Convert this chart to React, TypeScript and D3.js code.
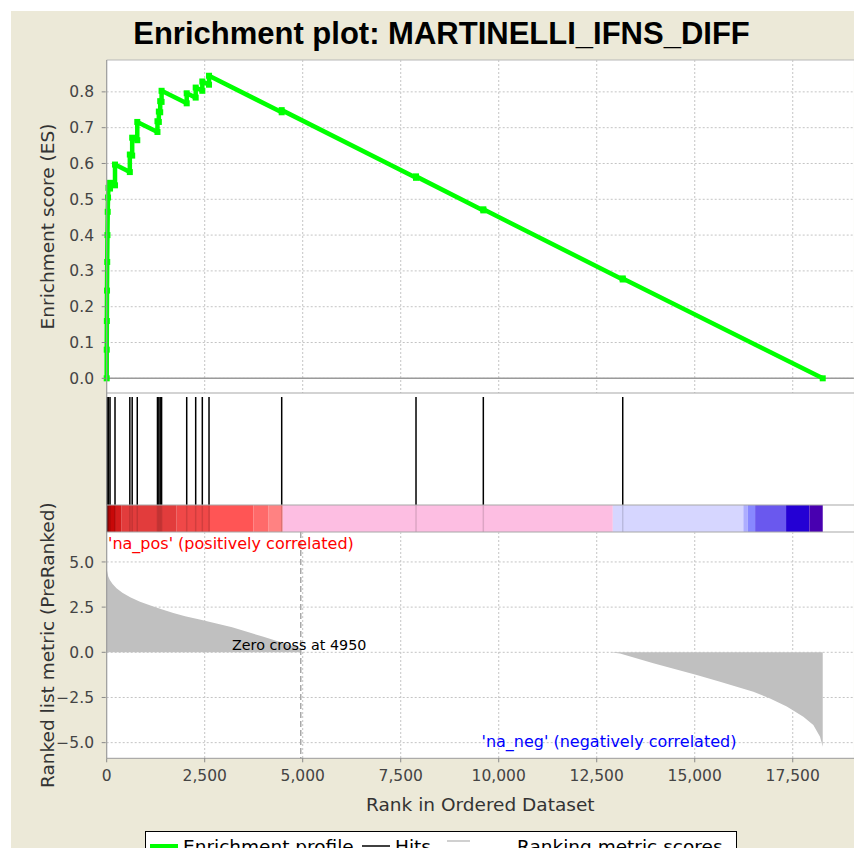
import React from 'react';
import * as d3 from 'd3';

// ---- data ---------------------------------------------------------------
const TITLE = 'Enrichment plot: MARTINELLI_IFNS_DIFF';
const GENE_COUNT = 18265;
const ZERO_CROSS = 4950;
const RANK_AXIS_MAX = 19060;

// running enrichment score: vertices of the step profile
const esRanks = [
  0, 1, 4, 8, 13, 19, 26, 34, 45, 85, 85, 212, 212, 590, 590, 650, 650, 780, 780,
  1295, 1295, 1330, 1330, 1365, 1365, 1400, 1400, 2041, 2041, 2270, 2270,
  2439, 2439, 2610, 2610, 4464, 4464, 7890, 7890, 9607, 9607, 13163, 13163, 18265,
];
const esValues = [
  0, 0.08, 0.16, 0.245, 0.325, 0.4, 0.465, 0.505, 0.532, 0.53, 0.546, 0.539, 0.597, 0.576, 0.625, 0.622, 0.672, 0.665, 0.716,
  0.688, 0.718, 0.716, 0.745, 0.743, 0.774, 0.772, 0.803, 0.768, 0.796, 0.784, 0.812,
  0.803, 0.829, 0.82, 0.845, 0.743, 0.749, 0.56, 0.564, 0.469, 0.472, 0.276, 0.279, 0,
];

// positions of gene-set members in the ranked list
const hitRanks = [
  1, 4, 8, 13, 19, 26, 34, 45, 85, 212, 590, 650, 780, 1295, 1330, 1365, 1400,
  2041, 2270, 2439, 2610, 4464, 7890, 9607, 13163,
];

// ranked list metric (positive and negative tails)
const metricPosRanks = [0, 15, 40, 80, 150, 250, 400, 600, 850, 1100, 1400, 1700, 2000, 2400, 2800, 3200, 3600, 4000, 4400, 4700, 4950];
const metricPosValues = [4.6, 4.45, 4.2, 4.0, 3.78, 3.55, 3.3, 3.05, 2.8, 2.6, 2.38, 2.18, 2.0, 1.8, 1.6, 1.38, 1.12, 0.86, 0.58, 0.38, 0.2];
const metricNegRanks = [12840, 13094, 13944, 15051, 15645, 16495, 16921, 17347, 17770, 18025, 18196, 18265];
const metricNegValues = [0, -0.06, -0.6, -1.26, -1.63, -2.18, -2.55, -3.0, -3.56, -4.02, -4.67, -5.22];

// heat bar segments: start rank of each colour band
const barStarts = [0, 212, 382, 1785, 2635, 3740, 4120, 4490, 12910, 16240, 16350, 16540, 17330, 17925];
const barColors = ['#c80808', '#d41c1c', '#e23c3c', '#f04848', '#ff5555', '#ff6a6a', '#ff8282', '#fdbee2', '#d6d6ff', '#adadff', '#8888ff', '#6a58ee', '#2400d4', '#4800b0'];

const rankTicks = [0, 2500, 5000, 7500, 10000, 12500, 15000, 17500];
const esTicks = [0, 0.1, 0.2, 0.3, 0.4, 0.5, 0.6, 0.7, 0.8];
const metricTicks = [5, 2.5, 0, -2.5, -5];

const legendLabels = ['Enrichment profile', 'Hits', 'Ranking metric scores'];

// ---- layout -------------------------------------------------------------
const W = 854;
const H = 848;
const PL = 106.7;
const PR = 853.9;
const ES_TOP = 60;
const ES_BOT = 393;
const HIT_TOP = 397;
const BAR_TOP = 505;
const BAR_BOT = 532;
const MET_BOT = 758.3;

const BG = '#ece9d8';
const GRID = '#c4c4c4';
const TICK_FONT = "'DejaVu Sans', sans-serif";

export default function App() {
  const x = d3.scaleLinear().domain([0, RANK_AXIS_MAX]).range([PL, PR]);
  const yEs = d3.scaleLinear().domain([-0.041, 0.889]).range([ES_BOT, ES_TOP]);
  const yMet = d3.scaleLinear().domain([-5.866, 6.657]).range([MET_BOT, BAR_BOT]);

  const esPts: [number, number][] = esRanks.map((r, i) => [r, esValues[i]]);
  const esLine = d3.line<[number, number]>().x((d) => x(d[0])).y((d) => yEs(d[1]))(esPts) || '';

  const metricArea = d3
    .area<[number, number]>()
    .x((d) => x(d[0]))
    .y0(yMet(0))
    .y1((d) => yMet(d[1]));
  const posPath = metricArea(metricPosRanks.map((r, i) => [r, metricPosValues[i]] as [number, number])) || '';
  const negPath = metricArea(metricNegRanks.map((r, i) => [r, metricNegValues[i]] as [number, number])) || '';

  const fmtRank = d3.format(',');
  const fmt1 = d3.format('.1f');

  return (
    <svg
      width={W}
      height={H}
      style={{ position: 'absolute', left: 0, top: 0, display: 'block' }}
      xmlns="http://www.w3.org/2000/svg"
    >
      <rect x={0} y={0} width={W} height={H} fill="#ffffff" />
      <rect x={11} y={11} width={W - 11} height={H - 11} fill={BG} />

      {/* title */}
      <text
        x={441.5}
        y={44}
        textAnchor="middle"
        fontFamily="'Liberation Sans', Arial, sans-serif"
        fontWeight="bold"
        fontSize={31}
        fill="#000"
      >
        {TITLE}
      </text>

      {/* plot backgrounds */}
      <rect x={PL} y={ES_TOP} width={PR - PL} height={MET_BOT - ES_TOP} fill="#ffffff" />
      <line x1={PL} x2={W} y1={ES_TOP} y2={ES_TOP} stroke="#b8b8b8" strokeWidth={1} />

      {/* ES panel grid */}
      {esTicks.map((t) => (
        <line key={'eg' + t} x1={PL} x2={PR} y1={yEs(t)} y2={yEs(t)} stroke={GRID} strokeDasharray="2,2" />
      ))}
      {rankTicks.slice(1).map((t) => (
        <line key={'evg' + t} x1={x(t)} x2={x(t)} y1={ES_TOP} y2={ES_BOT} stroke={GRID} strokeDasharray="2,2" />
      ))}
      <line x1={PL} x2={PR} y1={yEs(0)} y2={yEs(0)} stroke="#9a9a9a" strokeWidth={1.6} />

      {/* enrichment profile */}
      <path d={esLine} fill="none" stroke="#00ff00" strokeWidth={4.5} strokeLinejoin="round" />
      {esPts.map((d, i) => (
        <rect key={'em' + i} x={x(d[0]) - 3} y={yEs(d[1]) - 3} width={6} height={6} fill="#00ff00" />
      ))}

      {/* panel separators */}
      <line x1={PL} x2={W} y1={ES_BOT} y2={ES_BOT} stroke="#a8a8a8" strokeWidth={1.2} />

      {/* heat bar */}
      {barStarts.map((s, i) => {
        const e = i + 1 < barStarts.length ? barStarts[i + 1] : GENE_COUNT;
        return (
          <rect key={'hb' + i} x={x(s)} y={BAR_TOP} width={x(e) - x(s)} height={BAR_BOT - BAR_TOP} fill={barColors[i]} />
        );
      })}

      {/* hits */}
      {hitRanks.map((r) => (
        <g key={'h' + r}>
          <line x1={x(r)} x2={x(r)} y1={HIT_TOP} y2={BAR_TOP} stroke="#000" strokeWidth={1.5} />
          <line x1={x(r)} x2={x(r)} y1={BAR_TOP} y2={BAR_BOT} stroke="#000" strokeOpacity={0.13} strokeWidth={1.5} />
        </g>
      ))}
      <line x1={PL} x2={W} y1={BAR_TOP} y2={BAR_TOP} stroke="#a8a8a8" strokeWidth={1.2} />
      <line x1={PL} x2={W} y1={BAR_BOT} y2={BAR_BOT} stroke="#a8a8a8" strokeWidth={1.2} />

      {/* ranked metric panel */}
      {metricTicks.map((t) => (
        <line key={'mg' + t} x1={PL} x2={PR} y1={yMet(t)} y2={yMet(t)} stroke={GRID} strokeDasharray="2,2" />
      ))}
      {rankTicks.slice(1).map((t) => (
        <line key={'mvg' + t} x1={x(t)} x2={x(t)} y1={BAR_BOT} y2={MET_BOT} stroke={GRID} strokeDasharray="2,2" />
      ))}
      <path d={posPath} fill="#c0c0c0" />
      <path d={negPath} fill="#c0c0c0" />
      <line
        x1={x(ZERO_CROSS)}
        x2={x(ZERO_CROSS)}
        y1={BAR_BOT}
        y2={MET_BOT}
        stroke="#a8a8a8"
        strokeWidth={1.5}
        strokeDasharray="6,3"
      />
      <text x={232} y={650} fontFamily={TICK_FONT} fontSize={14.3} fill="#000">
        {'Zero cross at ' + ZERO_CROSS}
      </text>
      <text x={108} y={549} fontFamily={TICK_FONT} fontSize={16} fill="#ff0000">
        'na_pos' (positively correlated)
      </text>
      <text x={481.5} y={747} fontFamily={TICK_FONT} fontSize={16} fill="#0000ff">
        'na_neg' (negatively correlated)
      </text>

      {/* plot frame */}
      <line x1={PL} x2={PL} y1={ES_TOP} y2={MET_BOT} stroke="#9a9a9a" strokeWidth={1.2} />
      <line x1={PL} x2={W} y1={MET_BOT} y2={MET_BOT} stroke="#9a9a9a" strokeWidth={1} />

      {/* ES axis */}
      {esTicks.map((t) => (
        <g key={'et' + t}>
          <line x1={PL - 5} x2={PL - 1} y1={yEs(t)} y2={yEs(t)} stroke="#888" />
          <text
            x={94}
            y={yEs(t)}
            dy="0.36em"
            textAnchor="end"
            fontFamily={TICK_FONT}
            fontSize={15.5}
            fill="#444"
          >
            {fmt1(t)}
          </text>
        </g>
      ))}
      <text
        transform={`translate(54,${(ES_TOP + ES_BOT) / 2}) rotate(-90)`}
        textAnchor="middle"
        fontFamily={TICK_FONT}
        fontSize={18.5}
        fill="#333"
      >
        Enrichment score (ES)
      </text>

      {/* metric axis */}
      {metricTicks.map((t) => (
        <g key={'mt' + t}>
          <line x1={PL - 5} x2={PL - 1} y1={yMet(t)} y2={yMet(t)} stroke="#888" />
          <text
            x={94}
            y={yMet(t)}
            dy="0.36em"
            textAnchor="end"
            fontFamily={TICK_FONT}
            fontSize={15.5}
            fill="#444"
          >
            {fmt1(t)}
          </text>
        </g>
      ))}
      <text
        transform={`translate(54,${(BAR_BOT + MET_BOT) / 2}) rotate(-90)`}
        textAnchor="middle"
        fontFamily={TICK_FONT}
        fontSize={18.5}
        fill="#333"
      >
        Ranked list metric (PreRanked)
      </text>

      {/* rank axis */}
      {rankTicks.map((t) => (
        <g key={'xt' + t}>
          <line x1={x(t)} x2={x(t)} y1={MET_BOT} y2={MET_BOT + 4} stroke="#888" />
          <text
            x={x(t)}
            y={781}
            textAnchor="middle"
            fontFamily={TICK_FONT}
            fontSize={15.5}
            fill="#444"
          >
            {fmtRank(t)}
          </text>
        </g>
      ))}
      <text
        x={(PL + PR) / 2}
        y={811}
        textAnchor="middle"
        fontFamily={TICK_FONT}
        fontSize={18.5}
        fill="#333"
      >
        Rank in Ordered Dataset
      </text>

      {/* legend */}
      <rect x={145.5} y={831.5} width={591} height={40} fill="#ffffff" stroke="#000" strokeWidth={1} />
      <line x1={150} x2={178} y1={846} y2={846} stroke="#00ff00" strokeWidth={4} />
      <text x={183} y={853} fontFamily={TICK_FONT} fontSize={18.5} fill="#000">
        {legendLabels[0]}
      </text>
      <line x1={362} x2={390} y1={846} y2={846} stroke="#000" strokeWidth={1.5} />
      <text x={395} y={853} fontFamily={TICK_FONT} fontSize={18.5} fill="#000">
        {legendLabels[1]}
      </text>
      <line x1={447} x2={470} y1={841} y2={841} stroke="#c0c0c0" strokeWidth={1.5} />
      <text x={517} y={853} fontFamily={TICK_FONT} fontSize={18.5} fill="#000">
        {legendLabels[2]}
      </text>
    </svg>
  );
}
